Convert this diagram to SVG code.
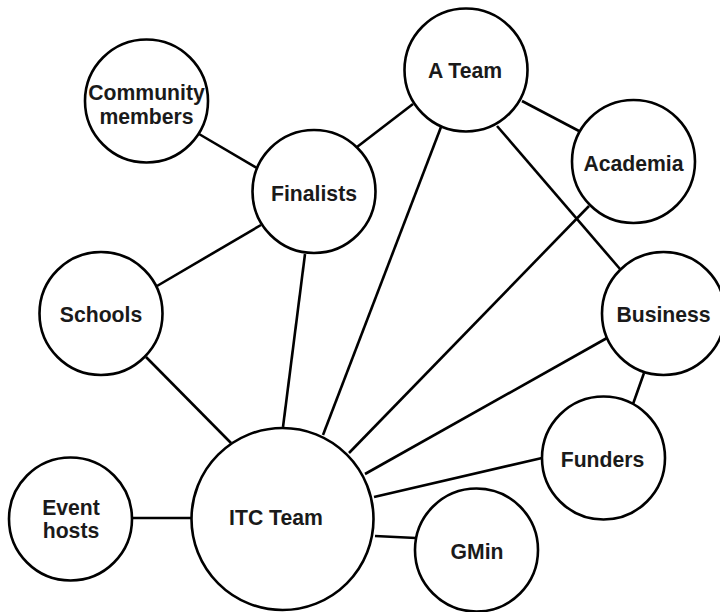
<svg xmlns="http://www.w3.org/2000/svg" width="720" height="612" viewBox="0 0 720 612">
  <style>
    .node circle { fill: #ffffff; stroke: #000000; stroke-width: 2.6; }
    .node text { font-family: "Liberation Sans", Arial, Helvetica, sans-serif; font-weight: bold; font-size: 21.2px; fill: #1a1a1a; text-anchor: middle; }
    #edges line { stroke: #000000; stroke-width: 2.6; stroke-linecap: butt; }
  </style>
  <rect width="720" height="612" fill="#ffffff"/>

  <g id="edges">
    <line x1="199" y1="134" x2="257" y2="168"/>
    <line x1="357" y1="147" x2="413" y2="104"/>
    <line x1="261" y1="225" x2="157" y2="286"/>
    <line x1="305" y1="254" x2="283" y2="427"/>
    <line x1="522" y1="101" x2="579" y2="131"/>
    <line x1="497" y1="126" x2="620" y2="269"/>
    <line x1="441" y1="127" x2="323" y2="435"/>
    <line x1="589" y1="206" x2="349" y2="453"/>
    <line x1="607" y1="338" x2="365" y2="474"/>
    <line x1="644" y1="373" x2="633" y2="404"/>
    <line x1="542" y1="458" x2="374" y2="497"/>
    <line x1="416" y1="538" x2="375" y2="536"/>
    <line x1="146" y1="357" x2="231" y2="443"/>
    <line x1="133" y1="518" x2="192" y2="518"/>
  </g>

  <g id="community-members" class="node">
    <circle cx="146.5" cy="101" r="61.5"/>
    <text x="146.5" y="100">Community</text>
    <text x="146.5" y="124">members</text>
  </g>
  <g id="finalists" class="node">
    <circle cx="314" cy="191.5" r="61.5"/>
    <text x="314" y="201">Finalists</text>
  </g>
  <g id="a-team" class="node">
    <circle cx="466" cy="70" r="61.5"/>
    <text x="465" y="78">A Team</text>
  </g>
  <g id="academia" class="node">
    <circle cx="633.5" cy="161.5" r="61.5"/>
    <text x="633.5" y="170.5">Academia</text>
  </g>
  <g id="schools" class="node">
    <circle cx="101" cy="313.5" r="61.5"/>
    <text x="101" y="321.5">Schools</text>
  </g>
  <g id="business" class="node">
    <circle cx="663.5" cy="313.5" r="61.5"/>
    <text x="663.5" y="321.5">Business</text>
  </g>
  <g id="funders" class="node">
    <circle cx="603.5" cy="458" r="61.5"/>
    <text x="602.5" y="466.5">Funders</text>
  </g>
  <g id="itc-team" class="node">
    <circle cx="282.5" cy="519" r="91"/>
    <text x="276" y="524.5">ITC Team</text>
  </g>
  <g id="event-hosts" class="node">
    <circle cx="70.5" cy="519" r="61.5"/>
    <text x="71" y="515">Event</text>
    <text x="71" y="538">hosts</text>
  </g>
  <g id="gmin" class="node">
    <circle cx="476.5" cy="550" r="61.5"/>
    <text x="477" y="559">GMin</text>
  </g>
</svg>
